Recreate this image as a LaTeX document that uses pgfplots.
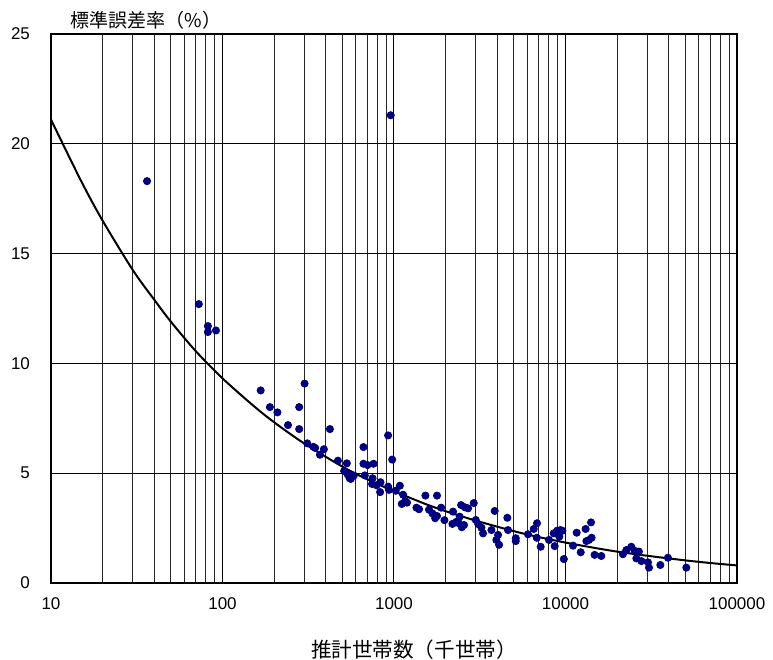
\documentclass[border=0pt]{standalone}
\usepackage{fontspec}
\setmainfont{Liberation Sans}
\newfontfamily\cjk{Noto Sans CJK JP}
\usepackage{pgfplots}
\pgfplotsset{compat=1.18}
\definecolor{navy}{RGB}{0,0,128}
\begin{document}
\begin{tikzpicture}
\begin{axis}[
  scale only axis, width=343pt, height=274.5pt,
  xmode=log, xmin=10, xmax=100000, ymin=0, ymax=25,
  ytick={0,5,...,25},
  log ticks with fixed point,
  /pgf/number format/1000 sep={},
  /pgf/number format/assume math mode=true,
  grid=both,
  major grid style={black, line width=0.5pt},
  minor grid style={black!85, line width=0.5pt},
  axis line style={black, line width=0.6pt},
  major tick length=0pt, minor tick length=0pt,
  ticklabel style={font=\fontsize{8.5}{10}\selectfont},
  xticklabel style={yshift=-4pt},
  yticklabel style={xshift=-7pt},
]
\addplot[black, line width=1pt, smooth] coordinates {
(10,21.1) (15,18.3) (20,16.5) (30,14.25) (40,12.9) (50,11.9) (70,10.55)
(100,9.32) (150,8.1) (200,7.32) (300,6.35) (500,5.30) (700,4.72) (1000,4.18)
(1500,3.62) (2000,3.27) (3000,2.84) (5000,2.36) (7000,2.09) (10000,1.84)
(15000,1.59) (20000,1.43) (30000,1.24) (50000,1.03) (70000,0.91) (100000,0.80)
};
\addplot[only marks, mark=*, mark size=1.8pt, navy, mark options={fill=navy, draw=navy}] coordinates {
(36.3,18.3) (957,21.3) (72.8,12.7) (82.2,11.7) (82.2,11.43) (91.6,11.5)
(167,8.77) (189,8.01) (209,7.77) (241,7.19) (280,8.01) (280,7.01) (301,9.08)
(312,6.36) (339,6.2) (347,6.15) (370,5.84) (390,6.09) (423,7.01) (471,5.57)
(531,5.45) (512,5.10) (538,4.93) (560,4.74) (583,4.89) (552,4.77) (664,6.19)
(924,6.72) (976,5.62) (664,5.43) (701,5.37) (760,5.43) (676,4.90) (750,4.77)
(745,4.51) (791,4.45) (834,4.59) (830,4.14) (924,4.39) (935,4.24) (1082,4.43)
(1024,4.20) (1130,4.02) (1110,3.60) (1161,3.73) (1191,3.66) (1525,3.98)
(1782,3.98) (1352,3.43) (1400,3.36) (1600,3.34) (1676,3.17) (1738,2.95)
(1782,3.05) (1883,3.43) (1969,2.86) (2210,3.25) (2191,2.69) (2313,2.79)
(2462,3.55) (2586,3.45) (2704,3.40) (2415,3.02) (2390,2.72) (2485,2.54)
(2560,2.64) (2918,3.64) (2998,2.87) (3100,2.68) (3236,2.52) (3306,2.26)
(3700,2.41) (3866,3.28) (3953,1.96) (4100,1.74) (4046,2.19) (4581,2.97)
(4622,2.41) (5129,2.04) (5129,1.91) (6043,2.22) (6529,2.46) (6823,2.72)
(6800,2.06) (7167,1.65) (8011,1.96) (8652,1.68) (8534,2.26) (8925,2.38)
(9337,2.41) (9597,2.38) (9200,2.11) (9780,1.09) (11070,1.70) (11620,2.29)
(12270,1.40) (13240,1.91) (13100,2.46) (14090,2.76) (14200,2.06) (13700,1.96)
(14780,1.28) (16180,1.23) (21630,1.31) (22640,1.50) (24200,1.65) (25300,1.47)
(26810,1.43) (25880,1.12) (27700,1.00) (30260,0.94) (30690,0.70) (35730,0.82)
(39570,1.15) (50650,0.70)
};
\end{axis}
\node[font=\cjk\fontsize{9.5}{11}\selectfont] at (47.5pt,281.5pt) {標準誤差率（\%）};
\node[font=\cjk\fontsize{10.3}{12}\selectfont] at (181.5pt,-33.5pt) {推計世帯数（千世帯）};
\pgfresetboundingbox
\useasboundingbox (-25.5pt,-38.5pt) rectangle (361pt,291.5pt);
\end{tikzpicture}
\end{document}
